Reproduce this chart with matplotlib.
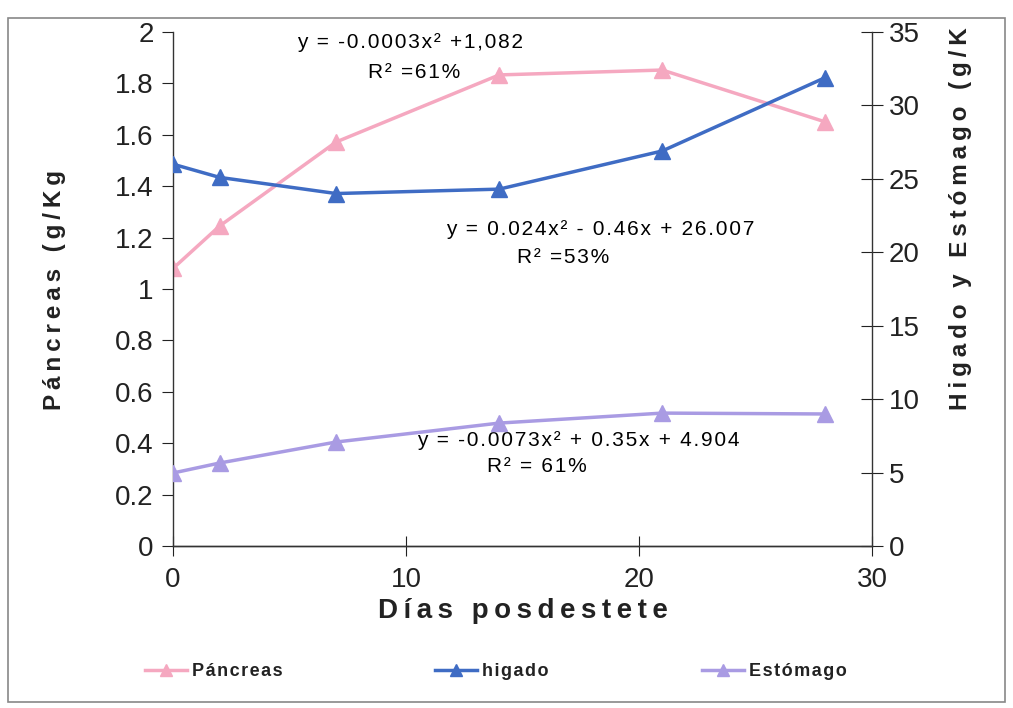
import matplotlib
matplotlib.use("Agg")
import matplotlib.pyplot as plt
from matplotlib.patches import Rectangle

plt.rcParams['font.family'] = ['Liberation Sans', 'DejaVu Sans']

# datos
dias = [0, 2, 7, 14, 21, 28]
pancreas = [1.08, 1.245, 1.572, 1.833, 1.852, 1.65]
higado = [26.0, 25.1, 24.0, 24.3, 26.9, 31.9]
estomago = [4.97, 5.65, 7.08, 8.37, 9.05, 8.99]

c_pan = '#f5a8c0'
c_hig = '#3f6cc4'
c_est = '#a99be3'


def espaciar(s, sep='\u2009'):
    # separa las letras, como en el original
    return sep.join(s)


def fino(s):
    return espaciar(s, '\u200a')


fig = plt.figure(figsize=(10.13, 7.08), dpi=100)
ax = fig.add_axes([173/1013, 1-546/708, (872-173)/1013, (546-32)/708])
ax2 = ax.twinx()

l1, = ax.plot(dias, pancreas, color=c_pan, lw=2.5, marker='^', ms=11, label=fino('Páncreas'))
l2, = ax2.plot(dias, higado, color=c_hig, lw=2.5, marker='^', ms=11, label=fino('higado'))
l3, = ax2.plot(dias, estomago, color=c_est, lw=2.5, marker='^', ms=11, label=fino('Estómago'))

ax.set_xlim(0, 30)
ax.set_ylim(0, 2)
ax2.set_ylim(0, 35)
ax.set_xticks([0, 10, 20, 30])
ax.set_yticks([0, 0.2, 0.4, 0.6, 0.8, 1, 1.2, 1.4, 1.6, 1.8, 2])
ax.set_yticklabels(['0', '0.2', '0.4', '0.6', '0.8', '1', '1.2', '1.4', '1.6', '1.8', '2'])
ax2.set_yticks(range(0, 36, 5))

for a in (ax, ax2):
    a.spines['top'].set_visible(False)
    for s in a.spines.values():
        s.set_color('#333333')
        s.set_linewidth(1)
ax2.spines['left'].set_visible(False)
ax.spines['right'].set_visible(False)

ax.tick_params(axis='y', direction='out', length=8, labelsize=20, pad=6, colors='#222222')
ax.tick_params(axis='x', direction='inout', length=14, labelsize=20, pad=8, colors='#222222')
ax2.tick_params(axis='y', direction='inout', length=16, labelsize=20, pad=4, colors='#222222')

ax.set_xlabel(espaciar('Días posdestete'), fontsize=20, fontweight='bold',
              labelpad=4, color='#222222')

fig.text(55/1013, 1-410/708, espaciar('Páncreas (g/Kg'), rotation=90,
         fontsize=17.5, fontweight='bold', ha='center', va='bottom', color='#222222')
fig.text(960/1013, 1-410/708, espaciar('Higado y Estómago (g/K'),
         rotation=90, fontsize=17.5, fontweight='bold', ha='center', va='bottom', color='#222222')

ax.text(410/1013, 1-42/708, fino('y = -0.0003x² +1,082'), transform=fig.transFigure,
        fontsize=15, ha='center', va='center')
ax.text(414/1013, 1-72/708, fino('R² =61%'), transform=fig.transFigure,
        fontsize=15, ha='center', va='center')
ax.text(600/1013, 1-230/708, fino('y = 0.024x² - 0.46x + 26.007'), transform=fig.transFigure,
        fontsize=15, ha='center', va='center')
ax.text(563/1013, 1-257/708, fino('R² =53%'), transform=fig.transFigure,
        fontsize=15, ha='center', va='center')
ax.text(578/1013, 1-440/708, fino('y = -0.0073x² + 0.35x + 4.904'), transform=fig.transFigure,
        fontsize=15, ha='center', va='center')
ax.text(537/1013, 1-467/708, fino('R² = 61%'), transform=fig.transFigure,
        fontsize=15, ha='center', va='center')

# una leyenda por serie, colocadas como en el original
for h, x0 in [(l1, 145), (l2, 435), (l3, 702)]:
    leg = fig.legend(handles=[h], loc='center left', bbox_to_anchor=(x0/1013, 1-672/708),
                     frameon=False, handlelength=2.3, handletextpad=0.3, borderpad=0,
                     borderaxespad=0, prop={'weight': 'bold', 'size': 13})
    for lh in leg.legend_handles:
        lh.set_markersize(9)
    for t in leg.get_texts():
        t.set_color('#222222')

fig.patches.append(Rectangle((8/1013, 1-702/708), 997/1013, 684/708, transform=fig.transFigure,
                             fill=False, edgecolor='#888888', lw=1.2))

fig.savefig('out.png', dpi=100)
